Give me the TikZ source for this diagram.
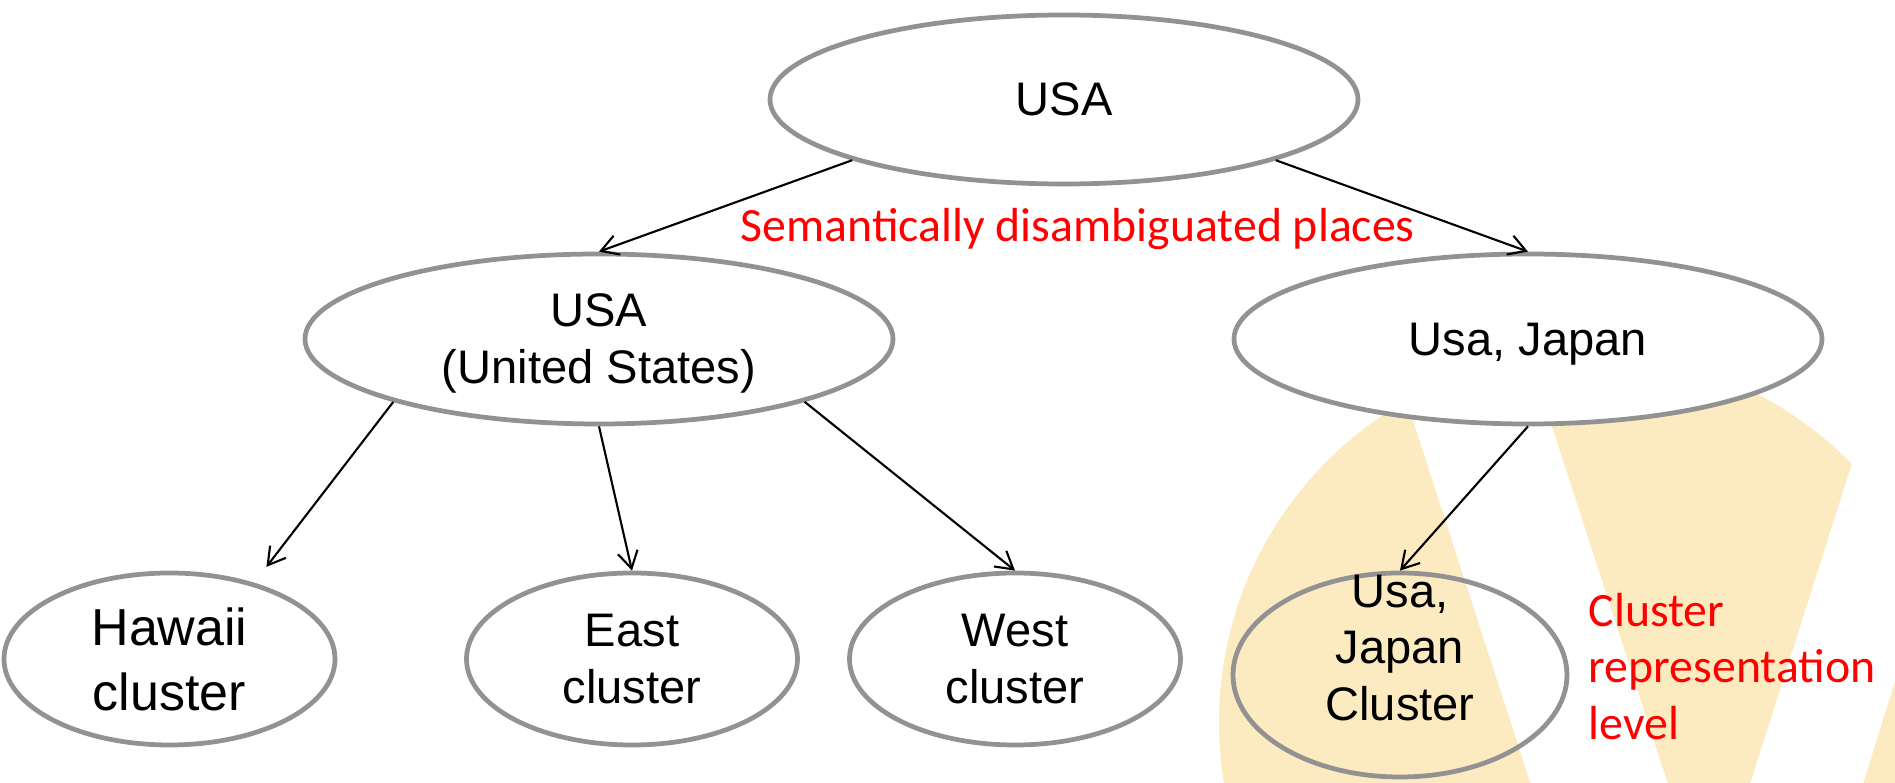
\documentclass[tikz,border=0pt]{standalone}
\usepackage{fontspec}
\setmainfont{Liberation Sans}
\newfontfamily\carlito{Carlito}
\usetikzlibrary{shapes.geometric, arrows.meta}
\definecolor{rimgray}{RGB}{146,146,146}
\definecolor{logoyellow}{RGB}{252,235,192}

\begin{document}
\begin{tikzpicture}[
    place/.style={ellipse, draw=rimgray, line width=1.35pt, fill=white, inner sep=0pt, align=center, font=\fontsize{13.4}{16.2}\selectfont},
    bigplace/.style={place, minimum width=5.88cm, minimum height=1.70cm},
    leaf/.style={place, minimum width=3.31cm, minimum height=1.72cm},
    link/.style={-{Straight Barb[length=1.7mm, width=2mm]}, line width=0.6pt},
    note/.style={text=red, inner sep=0pt, font=\carlito\fontsize{13.6}{16.2}\selectfont}
]
    \useasboundingbox (0,0) rectangle (18.95,-7.83);

    % Watermark behind the right branch
    \begin{scope}
        \clip (0,0) rectangle (18.95,-7.83);
        \fill [logoyellow] (15.88,-7.22) circle (3.69);
        \fill [white] (14.08,-4.05) -- (15.45,-4.05) -- (16.73,-8) -- (15.36,-8) -- cycle;
        \fill [white] (17.45,-8) -- (18.58,-8) -- (20.29,-2.5) -- (19.20,-2.5) -- cycle;
    \end{scope}

    % Places
    \node [bigplace, minimum height=1.69cm] (usa) at (10.64,-0.995) {USA};
    \node [bigplace, text depth=0pt] (us) at (5.99,-3.39) {USA\\(United States)};
    \node [bigplace, text depth=0pt] (jp) at (15.28,-3.39) {Usa, Japan};

    % Clusters
    \node [leaf, font=\fontsize{14.8}{18.5}\selectfont] (hawaii) at (1.695,-6.59) {Hawaii\\cluster};
    \node [leaf] (east) at (6.32,-6.59) {East\\cluster};
    \node [leaf] (west) at (10.15,-6.59) {West\\cluster};
    \node [leaf, fill=none, minimum width=3.34cm, minimum height=2.04cm] (jpcl) at (14.00,-6.75) {};
    \node [align=center, inner sep=0pt, font=\fontsize{13.4}{16.2}\selectfont] (jpcl-text) at (14.00,-6.48) {Usa,\\Japan\\Cluster};

    % Links
    \draw [link] (usa.196) -- (us.north);
    \draw [link] (usa.344) -- (jp.north);
    \draw [link, shorten >=2mm] (us.197) -- (hawaii.42);
    \draw [link] (us.south) -- (east.north);
    \draw [link] (us.343) -- (west.north);
    \draw [link] (jp.south) -- (jpcl.north);

    % Level notes
    \node [note, anchor=base west] (places-note) at (7.40,-2.42) {Semantically disambiguated places};
    \node [note, anchor=west, align=left, font=\carlito\fontsize{13.6}{16.0}\selectfont] (cluster-note) at (15.88,-6.665) {Cluster\\representation\\level};
\end{tikzpicture}
\end{document}
